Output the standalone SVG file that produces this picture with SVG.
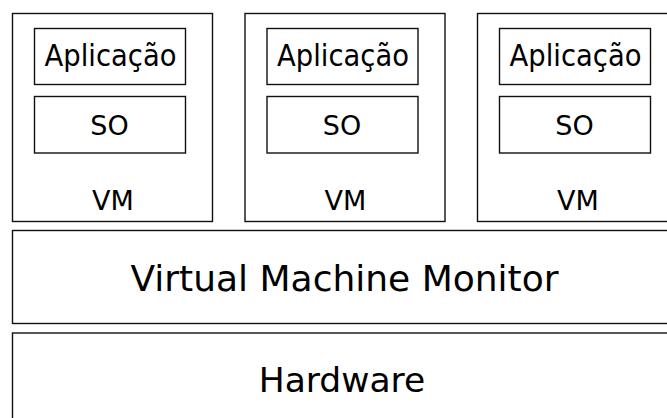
<svg xmlns="http://www.w3.org/2000/svg" width="667" height="418" viewBox="0 0 667 418">
<style>
rect{fill:#fff;stroke:#111;stroke-width:1.4}
text{font-family:"DejaVu Sans",sans-serif;fill:#000;text-anchor:middle}
.s{font-size:27px}
.a{font-size:29.5px}
.b{font-size:36px}
.h{font-size:34.5px}
</style>
<rect x="0" y="0" width="667" height="418" style="stroke:none"/>
<g id="vm1">
<rect x="12.5" y="13.5" width="200" height="208"/>
<rect x="34.5" y="28.5" width="151" height="56"/>
<text class="a" x="110.5" y="66" textLength="132" lengthAdjust="spacingAndGlyphs">Aplicação</text>
<rect x="34.5" y="96.5" width="151" height="56.5"/>
<text class="s" x="109.5" y="134.5">SO</text>
<text class="s" x="113" y="209.5">VM</text>
</g>
<g id="vm2">
<rect x="245" y="13.5" width="200" height="208"/>
<rect x="267" y="28.5" width="151" height="56"/>
<text class="a" x="343" y="66" textLength="132" lengthAdjust="spacingAndGlyphs">Aplicação</text>
<rect x="267" y="96.5" width="151" height="56.5"/>
<text class="s" x="342" y="134.5">SO</text>
<text class="s" x="345.5" y="209.5">VM</text>
</g>
<g id="vm3">
<rect x="477.5" y="13.5" width="200" height="208"/>
<rect x="499.5" y="28.5" width="151" height="56"/>
<text class="a" x="575.5" y="66" textLength="132" lengthAdjust="spacingAndGlyphs">Aplicação</text>
<rect x="499.5" y="96.5" width="151" height="56.5"/>
<text class="s" x="574.5" y="134.5">SO</text>
<text class="s" x="578" y="209.5">VM</text>
</g>
<g id="vmm">
<rect x="12.5" y="230.5" width="680" height="93"/>
<text class="b" x="344.5" y="290.5">Virtual Machine Monitor</text>
</g>
<g id="hardware">
<rect x="12.5" y="333" width="680" height="120"/>
<text class="h" x="342" y="392">Hardware</text>
</g>
<g id="connectors"></g>
</svg>
